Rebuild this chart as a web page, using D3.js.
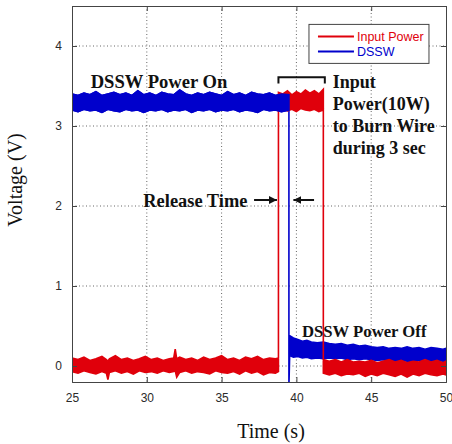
<!doctype html>
<html>

<head>
    <style>
        body { margin: 0; background: #fff; }
        .tick text { font-family: "Liberation Sans", Arial, sans-serif; font-size: 12px; fill: #2a2a2a; }
        .note { font-family: "Liberation Serif", "Times New Roman", serif; font-weight: bold; fill: #111; }
    </style>
    <script src="https://d3js.org/d3.v7.min.js"></script>
</head>

<body>
    <svg width="452" height="444"></svg>
    <script>
        // Input Power envelope (time, upper, lower)
        var redT  = [25.0, 25.4, 25.8, 26.2, 26.6, 27.0, 27.3, 27.4, 27.5, 27.9, 28.3, 28.7, 29.1, 29.5, 29.9, 30.3, 30.7, 31.1, 31.5, 31.8, 31.9, 32.0, 32.2, 32.6, 33.0, 33.4, 33.8, 34.2, 34.6, 35.0, 35.4, 35.8, 36.2, 36.6, 37.0, 37.4, 37.8, 38.2, 38.6, 38.8,
                     38.8, 39.1, 39.4, 39.7, 40.0, 40.3, 40.6, 40.9, 41.2, 41.5, 41.8,
                     41.8, 42.2, 42.6, 43.0, 43.4, 43.8, 44.2, 44.6, 45.0, 45.4, 45.8, 46.2, 46.6, 47.0, 47.4, 47.8, 48.2, 48.6, 49.0, 49.4, 49.8, 50.0]
        var redHi = [0.10, 0.08, 0.11, 0.07, 0.09, 0.12, 0.08, 0.06, 0.09, 0.13, 0.08, 0.10, 0.07, 0.09, 0.12, 0.08, 0.10, 0.07, 0.09, 0.10, 0.21, 0.09, 0.11, 0.08, 0.10, 0.07, 0.11, 0.08, 0.10, 0.13, 0.08, 0.10, 0.07, 0.11, 0.09, 0.12, 0.08, 0.10, 0.09, 0.10,
                     3.42, 3.40, 3.44, 3.39, 3.43, 3.40, 3.45, 3.41, 3.44, 3.40, 3.46,
                     0.08, 0.06, 0.08, 0.05, 0.08, 0.05, 0.06, 0.05, 0.07, 0.04, 0.06, 0.08, 0.05, 0.07, 0.04, 0.06, 0.05, 0.08, 0.05, 0.07, 0.04, 0.06]
        var redLo = [-0.07, -0.09, -0.06, -0.08, -0.10, -0.07, -0.09, -0.17, -0.08, -0.06, -0.09, -0.07, -0.10, -0.06, -0.08, -0.07, -0.09, -0.06, -0.08, -0.07, -0.06, -0.14, -0.08, -0.06, -0.09, -0.07, -0.08, -0.10, -0.06, -0.08, -0.09, -0.07, -0.10, -0.06, -0.09, -0.07, -0.11, -0.08, -0.09, -0.07,
                     3.20, 3.22, 3.19, 3.21, 3.18, 3.22, 3.20, 3.19, 3.21, 3.18, 3.20,
                     -0.09, -0.11, -0.09, -0.12, -0.10, -0.11, -0.09, -0.13, -0.10, -0.12, -0.09, -0.11, -0.13, -0.10, -0.14, -0.10, -0.12, -0.09, -0.11, -0.12, -0.10, -0.11]

        // DSSW envelope (time, upper, lower)
        var blueT  = [25.0, 25.4, 25.8, 26.2, 26.6, 27.0, 27.4, 27.8, 28.2, 28.6, 29.0, 29.4, 29.8, 30.2, 30.6, 31.0, 31.4, 31.8, 32.2, 32.6, 33.0, 33.4, 33.8, 34.2, 34.6, 35.0, 35.4, 35.8, 36.2, 36.6, 37.0, 37.4, 37.8, 38.2, 38.6, 39.0, 39.5,
                      39.5, 39.55, 39.8, 40.1, 40.4, 40.7, 41.0, 41.4, 41.8, 42.2, 42.6, 43.0, 43.4, 43.8, 44.2, 44.6, 45.0, 45.4, 45.8, 46.2, 46.6, 47.0, 47.4, 47.8, 48.2, 48.6, 49.0, 49.4, 49.8, 50.0]
        var blueHi = [3.40, 3.38, 3.41, 3.39, 3.43, 3.38, 3.40, 3.42, 3.39, 3.41, 3.38, 3.44, 3.39, 3.41, 3.38, 3.42, 3.40, 3.39, 3.45, 3.40, 3.38, 3.41, 3.39, 3.42, 3.40, 3.38, 3.43, 3.39, 3.41, 3.38, 3.42, 3.40, 3.39, 3.41, 3.38, 3.40, 3.39,
                      -0.25, 0.38, 0.35, 0.33, 0.31, 0.32, 0.30, 0.29, 0.30, 0.28, 0.27, 0.28, 0.26, 0.27, 0.25, 0.26, 0.24, 0.23, 0.24, 0.22, 0.23, 0.22, 0.24, 0.22, 0.23, 0.21, 0.23, 0.22, 0.21, 0.22]
        var blueLo = [3.20, 3.18, 3.21, 3.19, 3.20, 3.17, 3.21, 3.19, 3.18, 3.21, 3.19, 3.20, 3.17, 3.20, 3.19, 3.21, 3.18, 3.20, 3.19, 3.21, 3.17, 3.20, 3.19, 3.21, 3.18, 3.20, 3.19, 3.21, 3.18, 3.20, 3.19, 3.17, 3.21, 3.19, 3.20, 3.18, 3.20,
                      -0.25, 0.13, 0.11, 0.12, 0.10, 0.11, 0.09, 0.10, 0.09, 0.10, 0.09, 0.10, 0.08, 0.09, 0.08, 0.09, 0.08, 0.07, 0.08, 0.07, 0.06, 0.07, 0.06, 0.05, 0.07, 0.06, 0.05, 0.07, 0.06, 0.05]

        var xTicks = [25, 30, 35, 40, 45, 50]
        var yTicks = [0, 1, 2, 3, 4]
        var seriesNames = ["Input Power", "DSSW"]
        var seriesColors = ["#e0000b", "#0000cc"]

        var svg = d3.select("svg"),
            margin = { top: 6, right: 6, bottom: 62, left: 72 },
            width = +svg.attr("width") - margin.left - margin.right,
            height = +svg.attr("height") - margin.top - margin.bottom

        var x = d3.scaleLinear().domain([25, 50]).range([0, width]),
            y = d3.scaleLinear().domain([-0.2, 4.5]).range([height, 0]);

        var g = svg.append("g")
            .attr("transform", "translate(" + margin.left + "," + margin.top + ")");

        g.append("clipPath").attr("id", "clip")
            .append("rect").attr("width", width).attr("height", height);

        // grid
        var grid = g.append("g").attr("stroke", "#666").attr("stroke-dasharray", "1,2.5");
        grid.selectAll(".gx").data(xTicks.slice(1, -1)).enter().append("line")
            .attr("x1", d => x(d)).attr("x2", d => x(d)).attr("y1", 0).attr("y2", height);
        grid.selectAll(".gy").data(yTicks).enter().append("line")
            .attr("y1", d => y(d)).attr("y2", d => y(d)).attr("x1", 0).attr("x2", width);

        // signals: DSSW first, Input Power low band on top, DSSW high band redrawn over the red
        function envelope(t, hi, lo) {
            return t.map(function (d, i) { return { t: d, hi: hi[i], lo: lo[i] }; });
        }
        var area = d3.area()
            .x(d => x(d.t))
            .y0(d => y(d.lo))
            .y1(d => y(d.hi));

        var plot = g.append("g").attr("clip-path", "url(#clip)");
        var blue = envelope(blueT, blueHi, blueLo),
            red = envelope(redT, redHi, redLo);
        [[blue, 1], [red, 0], [blue.slice(0, 37), 1]].forEach(function (s) {
            plot.append("path")
                .datum(s[0])
                .attr("d", area)
                .attr("fill", seriesColors[s[1]])
                .attr("stroke", seriesColors[s[1]])
                .attr("stroke-width", 1.6)
                .attr("stroke-linejoin", "miter");
        });

        // axes
        g.append("g")
            .attr("transform", "translate(0," + height + ")")
            .call(d3.axisBottom(x).tickValues(xTicks).tickSize(-5).tickPadding(11));
        g.append("g")
            .call(d3.axisLeft(y).tickValues(yTicks).tickSize(-5).tickPadding(10).tickFormat(d3.format("d")));
        g.append("g")
            .call(d3.axisTop(x).tickValues(xTicks).tickSize(-5).tickFormat(""));
        g.append("g")
            .attr("transform", "translate(" + width + ",0)")
            .call(d3.axisRight(y).tickValues(yTicks).tickSize(-5).tickFormat(""));
        g.selectAll(".domain, .tick line").attr("stroke", "#444");

        // legend
        var legend = g.append("g").attr("transform", "translate(" + x(40.84) + "," + y(4.27) + ")");
        legend.append("rect").attr("width", 120).attr("height", 39)
            .attr("fill", "#fff").attr("stroke", "#444");
        seriesNames.forEach(function (name, i) {
            legend.append("line")
                .attr("x1", 9).attr("x2", 45).attr("y1", 12 + i * 15).attr("y2", 12 + i * 15)
                .attr("stroke", seriesColors[i]).attr("stroke-width", 2);
            legend.append("text")
                .attr("x", 48).attr("y", 16.5 + i * 15)
                .style("font-family", "'Liberation Sans', Arial, sans-serif")
                .style("font-size", "12.5px")
                .attr("fill", seriesColors[i])
                .text(name);
        });

        // annotations
        g.append("text").attr("class", "note").attr("x", x(26.25)).attr("y", y(3.475))
            .style("font-size", "18.6px").text("DSSW Power On");
        g.append("text").attr("class", "note").attr("x", x(29.77)).attr("y", y(1.99))
            .style("font-size", "18.4px").text("Release Time");
        g.append("text").attr("class", "note").attr("x", x(40.37)).attr("y", y(0.3625))
            .style("font-size", "16.7px").text("DSSW Power Off");
        ["Input", "Power(10W)", "to Burn Wire", "during 3 sec"].forEach(function (s, i) {
            g.append("text").attr("class", "note").attr("x", x(42.43)).attr("y", y(3.475) + i * 22)
                .style("font-size", "18px").text(s);
        });

        // bracket over the burn interval
        g.append("path")
            .attr("d", "M" + x(38.8) + "," + y(3.53) + "V" + y(3.61) + "H" + x(41.9) + "V" + y(3.53))
            .attr("fill", "none").attr("stroke", "#111").attr("stroke-width", 2);

        // release-time arrows
        svg.append("defs").append("marker")
            .attr("id", "head").attr("viewBox", "0 0 10 10").attr("refX", 10).attr("refY", 5)
            .attr("markerWidth", 4).attr("markerHeight", 4).attr("orient", "auto")
            .append("path").attr("d", "M0,0L10,5L0,10z").attr("fill", "#111");
        [[37.17, 38.7], [41.18, 39.8]].forEach(function (a) {
            g.append("line")
                .attr("x1", x(a[0])).attr("x2", x(a[1])).attr("y1", y(2.075)).attr("y2", y(2.075))
                .attr("stroke", "#111").attr("stroke-width", 2)
                .attr("marker-end", "url(#head)");
        });

        // axis labels
        g.append("text")
            .attr("transform", "translate(" + (width / 2 + 12) + " ," + (height + 56) + ")")
            .style("text-anchor", "middle")
            .style("font-family", "'Liberation Serif', 'Times New Roman', serif")
            .style("font-size", "20px")
            .attr("fill", "#111")
            .text("Time (s)");

        g.append("text")
            .attr("transform", "rotate(-90)")
            .attr("y", 22 - margin.left)
            .attr("x", -(180 - margin.top))
            .style("text-anchor", "middle")
            .style("font-family", "'Liberation Serif', 'Times New Roman', serif")
            .style("font-size", "20px")
            .attr("fill", "#111")
            .text("Voltage (V)");
    </script>
</body>

</html>
